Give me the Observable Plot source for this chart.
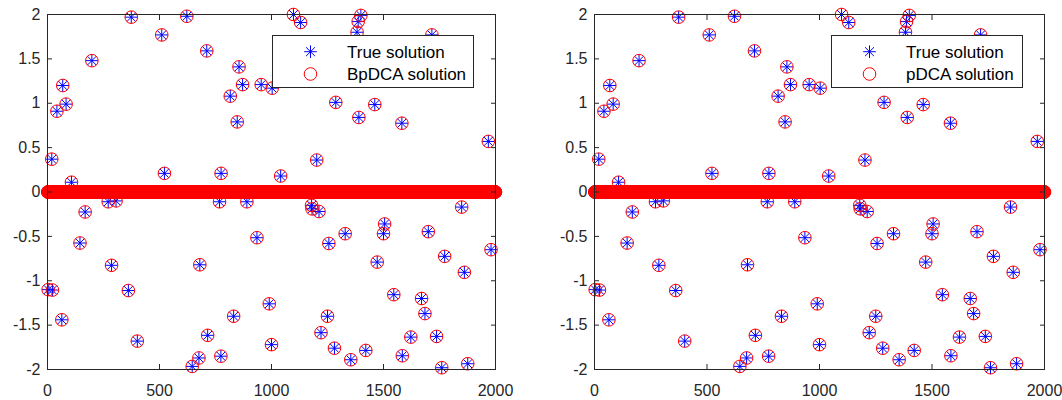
<!DOCTYPE html>
<html><head><meta charset="utf-8">
<script src="https://cdn.jsdelivr.net/npm/d3@7"></script>
<script src="https://cdn.jsdelivr.net/npm/@observablehq/plot@0.6"></script>
<style>
body{margin:0;background:#fff;}
#wrap{position:relative;width:1062px;height:400px;display:flex;}
.panel{position:relative;}
.panel svg.legend{position:absolute;top:0;left:0;}
</style></head><body><div id="wrap"></div>
<script>
// Signal length (indices 1..N); all other entries are zero
const N = 2000;
// Nonzero entries of the true solution (index, value)
const nzIndex = [19,42,68,83,107,198,374,510,522,622,711,775,816,847,855,871,954,1003,1041,1098,1130,1202,1287,1390,1399,1387,1382,1461,1582,1716,1968,
  3,22,64,145,168,271,286,306,361,401,646,676,680,715,768,774,831,890,935,990,1000,1179,1181,1212,1221,1250,1256,1281,1329,1354,1421,1472,1500,1505,1546,1584,1622,1670,1685,1700,1737,1760,1773,1849,1861,1876,1980];
const nzValue = [0.37,0.91,1.20,0.99,0.11,1.48,1.97,1.77,0.21,1.98,1.59,0.21,1.08,0.79,1.41,1.21,1.21,1.17,0.18,2.00,1.91,0.36,1.01,0.84,1.99,1.92,1.80,0.985,0.775,1.77,0.57,
  -1.10,-1.105,-1.44,-0.575,-0.225,-0.11,-0.826,-0.10,-1.11,-1.68,-1.965,-1.87,-0.82,-1.615,-0.11,-1.85,-1.40,-0.11,-0.515,-1.26,-1.72,-0.15,-0.19,-0.22,-1.585,-1.40,-0.58,-1.76,-0.47,-1.89,-1.785,-0.79,-0.47,-0.36,-1.157,-1.845,-1.635,-1.20,-1.37,-0.447,-1.627,-1.98,-0.725,-0.17,-0.905,-1.935,-0.65];
// Recovered solutions (both methods recover the true support and values)
const bpdcaIndex = nzIndex, bpdcaValue = nzValue;
const pdcaIndex = nzIndex, pdcaValue = nzValue;

const xTicks = [0,500,1000,1500,2000];
const xTickLabels = ["0","500","1000","1500","2000"];
const yTicks = [-2,-1.5,-1,-0.5,0,0.5,1,1.5,2];
const yTickLabels = ["-2","-1.5","-1","-0.5","0","0.5","1","1.5","2"];
const trueLabel = "True solution";
const methodLabels = ["BpDCA solution","pDCA solution"];

function fullVector(ix, vals){
  const v = d3.range(1, N+1).map(i => ({i, v: 0}));
  ix.forEach((k, j) => { v[k-1].v = vals[j]; });
  return v;
}
const trueData = fullVector(nzIndex, nzValue);
const solData = [fullVector(bpdcaIndex, bpdcaValue), fullVector(pdcaIndex, pdcaValue)];

const asterisk = {draw(ctx, size){
  const r = Math.sqrt(size/Math.PI), d = r*Math.SQRT1_2;
  ctx.moveTo(0,-r);ctx.lineTo(0,r);ctx.moveTo(-r,0);ctx.lineTo(r,0);
  ctx.moveTo(-d,-d);ctx.lineTo(d,d);ctx.moveTo(-d,d);ctx.lineTo(d,-d);
}};
const fmtX = d => xTickLabels[xTicks.indexOf(d)];
const fmtY = d => yTickLabels[yTicks.indexOf(d)];

const AX = "#262626";
const layouts = [
  {width:531, ml:47, mr:36, legLeft:272, legW:201},
  {width:531, ml:63, mr:18, legLeft:831-531, legW:191}
];
const wrap = document.getElementById("wrap");
layouts.forEach((L, p) => {
  const div = document.createElement("div");
  div.className = "panel";
  div.style.width = L.width + "px";
  const chart = Plot.plot({
    width: L.width, height: 400,
    marginLeft: L.ml, marginRight: L.mr, marginTop: 14, marginBottom: 31,
    x: {domain:[0,N]}, y: {domain:[-2,2]},
    style: {fontFamily:"'Liberation Sans', Arial, sans-serif", fontSize:"16px", color:AX, background:"#fff", overflow:"visible"},
    marks: [
      Plot.dot(trueData, {x:"i", y:"v", symbol: asterisk, r:6.3, stroke:"#0000ff", fill:"none", strokeWidth:1}),
      Plot.dot(solData[p], {x:"i", y:"v", r:6.3, stroke:"#ff0000", fill:"none", strokeWidth:1}),
      Plot.frame({stroke:AX, strokeWidth:1}),
      Plot.axisX(xTicks, {anchor:"bottom", tickSize:-5, tickPadding:20, tickFormat:fmtX, stroke:AX, fill:AX, label:null}),
      Plot.axisX(xTicks, {anchor:"top", tickSize:-5, tickFormat:() => "", stroke:AX, label:null}),
      Plot.axisY(yTicks, {anchor:"left", tickSize:-5, tickPadding:12, tickFormat:fmtY, stroke:AX, fill:AX, label:null}),
      Plot.axisY(yTicks, {anchor:"right", tickSize:-5, tickFormat:() => "", stroke:AX, label:null})
    ]
  });
  div.appendChild(chart);
  // legend
  const ns = "http://www.w3.org/2000/svg";
  const lg = document.createElementNS(ns, "svg");
  lg.setAttribute("class","legend");
  lg.setAttribute("width", L.width); lg.setAttribute("height", 100);
  const g = document.createElementNS(ns, "g");
  g.setAttribute("transform", `translate(${L.legLeft},35)`);
  const rect = document.createElementNS(ns, "rect");
  rect.setAttribute("x",0.5); rect.setAttribute("y",0.5);
  rect.setAttribute("width",L.legW); rect.setAttribute("height",52);
  rect.setAttribute("fill","#fff"); rect.setAttribute("stroke",AX);
  g.appendChild(rect);
  const ast = document.createElementNS(ns, "path");
  const r = 6.3, d = r*Math.SQRT1_2;
  ast.setAttribute("d", `M0,${-r}V${r}M${-r},0H${r}M${-d},${-d}L${d},${d}M${-d},${d}L${d},${-d}`);
  ast.setAttribute("transform","translate(38.5,16.7)");
  ast.setAttribute("stroke","#0000ff"); ast.setAttribute("fill","none");
  g.appendChild(ast);
  const c = document.createElementNS(ns, "circle");
  c.setAttribute("cx",38.5); c.setAttribute("cy",39); c.setAttribute("r",r);
  c.setAttribute("stroke","#ff0000"); c.setAttribute("fill","none");
  g.appendChild(c);
  [trueLabel, methodLabels[p]].forEach((t, k) => {
    const tx = document.createElementNS(ns, "text");
    tx.setAttribute("x",75); tx.setAttribute("y", k ? 39 : 16.7);
    tx.setAttribute("dy","0.36em");
    tx.setAttribute("font-family","'Liberation Sans', Arial, sans-serif");
    tx.setAttribute("font-size","17px"); tx.setAttribute("fill","#000");
    tx.textContent = t;
    g.appendChild(tx);
  });
  lg.appendChild(g);
  div.appendChild(lg);
  wrap.appendChild(div);
});
</script></body></html>
